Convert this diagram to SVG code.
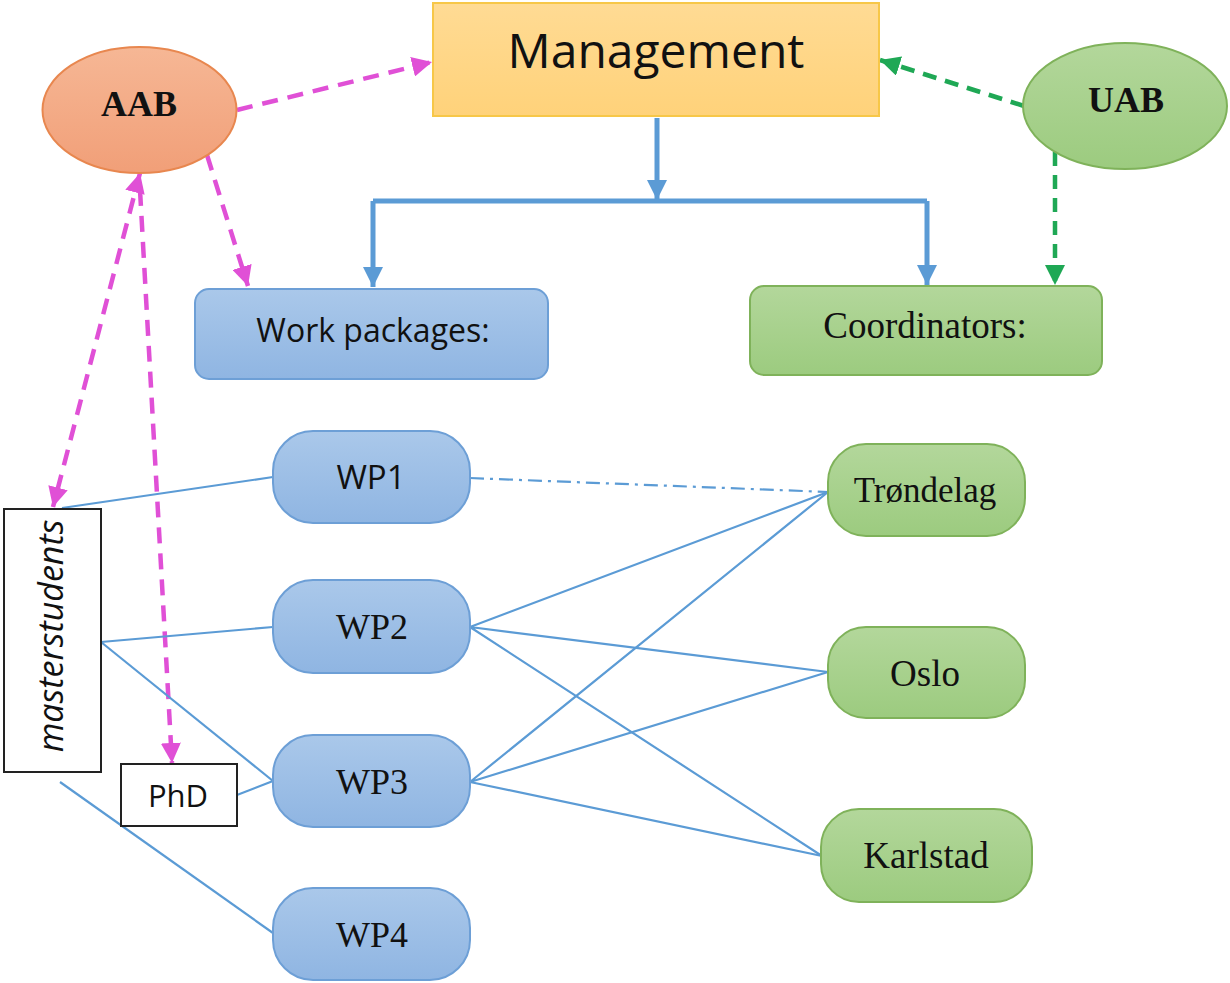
<svg xmlns="http://www.w3.org/2000/svg" width="1230" height="983" viewBox="0 0 1230 983">
<defs>
<style>
.serif{font-family:"Liberation Serif","Times New Roman",serif;fill:#111}
.sans{font-family:"Open Sans","Liberation Sans",sans-serif;fill:#111}
.blue{fill:url(#gBlue);stroke:#6d9fd6;stroke-width:2}
.green{fill:url(#gGreen);stroke:#7fb25a;stroke-width:2}
.box{fill:#fff;stroke:#222;stroke-width:2}
.thin{stroke:#5b9bd5;stroke-width:2.2;fill:none}
.thick{stroke:#5b9bd5;stroke-width:5;fill:none}
.mag{stroke:#e050d6;stroke-width:4.5;stroke-dasharray:16 10;fill:none}
.grn{stroke:#1fa855;stroke-width:4.5;stroke-dasharray:14 9;fill:none}
</style>
<linearGradient id="gBlue" x1="0" y1="0" x2="0" y2="1"><stop offset="0" stop-color="#aac8ea"/><stop offset="1" stop-color="#8fb5e2"/></linearGradient>
<linearGradient id="gGreen" x1="0" y1="0" x2="0" y2="1"><stop offset="0" stop-color="#b3d79b"/><stop offset="1" stop-color="#9ccb7f"/></linearGradient>
<linearGradient id="gOrange" x1="0" y1="0" x2="0" y2="1"><stop offset="0" stop-color="#f6b795"/><stop offset="1" stop-color="#f19f78"/></linearGradient>
<linearGradient id="gYellow" x1="0" y1="0" x2="0" y2="1"><stop offset="0" stop-color="#ffdb94"/><stop offset="1" stop-color="#ffd27a"/></linearGradient>
<marker id="aMag" viewBox="0 0 10 10" refX="10" refY="5" markerWidth="20" markerHeight="20" markerUnits="userSpaceOnUse" orient="auto-start-reverse"><path d="M0,0 L10,5 L0,10 z" fill="#e050d6"/></marker>
<marker id="aGrn" viewBox="0 0 10 10" refX="10" refY="5" markerWidth="20" markerHeight="20" markerUnits="userSpaceOnUse" orient="auto"><path d="M0,0 L10,5 L0,10 z" fill="#1fa855"/></marker>
<marker id="aBlue" viewBox="0 0 10 10" refX="10" refY="5" markerWidth="20" markerHeight="20" markerUnits="userSpaceOnUse" orient="auto"><path d="M0,0 L10,5 L0,10 z" fill="#5b9bd5"/></marker>
</defs>
<rect width="1230" height="983" fill="#fff"/>

<g id="connectors">
<path class="thick" d="M657,118 V200" marker-end="url(#aBlue)"/>
<path class="thick" d="M373,201 H927"/>
<path class="thick" d="M373,201 V287" marker-end="url(#aBlue)"/>
<path class="thick" d="M927,201 V285" marker-end="url(#aBlue)"/>
<path class="mag" d="M237,110 L432,62" marker-end="url(#aMag)"/>
<path class="mag" d="M207,155 L248,286" marker-end="url(#aMag)"/>
<path class="mag" d="M140,173 L53,507" marker-start="url(#aMag)" marker-end="url(#aMag)"/>
<path class="mag" d="M140,190 L172,763" marker-end="url(#aMag)"/>
<path class="grn" d="M1024,106 L880,60" marker-end="url(#aGrn)"/>
<path class="grn" d="M1055,152 L1055,285" marker-end="url(#aGrn)"/>
<path class="thin" d="M273,477 L62,508"/>
<path class="thin" d="M470,478 L828,492" stroke-dasharray="14 6 3 6"/>
<path class="thin" d="M101,642 L273,627"/>
<path class="thin" d="M101,642 L273,781"/>
<path class="thin" d="M60,782 L273,933"/>
<path class="thin" d="M237,795 L273,781"/>
<path class="thin" d="M470,627 L828,492 M470,627 L828,672 M470,627 L822,856"/>
<path class="thin" d="M470,782 L828,492 M470,782 L828,672 M470,782 L822,856"/>
</g>

<g id="aab">
<ellipse cx="139.5" cy="110" rx="97" ry="63" fill="url(#gOrange)" stroke="#e8874f" stroke-width="2"/>
<text class="serif" x="139" y="116" font-size="36" font-weight="bold" text-anchor="middle">AAB</text>
</g>
<g id="management">
<rect x="433" y="3" width="446" height="113" fill="url(#gYellow)" stroke="#f7c748" stroke-width="2"/>
<text class="sans" x="656" y="68" font-size="48" text-anchor="middle">Management</text>
</g>
<g id="uab">
<ellipse cx="1125" cy="106" rx="102" ry="63" fill="url(#gGreen)" stroke="#7fb25a" stroke-width="2"/>
<text class="serif" x="1126" y="112" font-size="36" font-weight="bold" text-anchor="middle">UAB</text>
</g>
<g id="workpackages">
<rect class="blue" x="195" y="289" width="353" height="90" rx="14"/>
<text class="sans" x="373" y="342" font-size="32" text-anchor="middle">Work packages:</text>
</g>
<g id="coordinators">
<rect class="green" x="750" y="286" width="352" height="89" rx="14"/>
<text class="serif" x="925" y="338" font-size="37" text-anchor="middle">Coordinators:</text>
</g>
<g id="masterstudents">
<rect class="box" x="4" y="509" width="97" height="263"/>
<text class="sans" transform="translate(63,636) rotate(-90)" x="0" y="0" font-size="34" font-style="italic" text-anchor="middle">masterstudents</text>
</g>
<g id="phd">
<rect class="box" x="121" y="764" width="116" height="62"/>
<text class="sans" x="178" y="807" font-size="31" text-anchor="middle">PhD</text>
</g>
<g id="wp1">
<rect class="blue" x="273" y="431" width="197" height="92" rx="40"/>
<text class="sans" x="371" y="489" font-size="33" text-anchor="middle">WP1</text>
</g>
<g id="wp2">
<rect class="blue" x="273" y="580" width="197" height="93" rx="40"/>
<text class="serif" x="372" y="639" font-size="36" text-anchor="middle">WP2</text>
</g>
<g id="wp3">
<rect class="blue" x="273" y="735" width="197" height="92" rx="40"/>
<text class="serif" x="372" y="794" font-size="36" text-anchor="middle">WP3</text>
</g>
<g id="wp4">
<rect class="blue" x="273" y="888" width="197" height="92" rx="40"/>
<text class="serif" x="372" y="947" font-size="36" text-anchor="middle">WP4</text>
</g>
<g id="trondelag">
<rect class="green" x="828" y="444" width="197" height="92" rx="38"/>
<text class="serif" x="925" y="502" font-size="35" text-anchor="middle">Trøndelag</text>
</g>
<g id="oslo">
<rect class="green" x="828" y="627" width="197" height="91" rx="38"/>
<text class="serif" x="925" y="686" font-size="37" text-anchor="middle">Oslo</text>
</g>
<g id="karlstad">
<rect class="green" x="821" y="809" width="211" height="93" rx="38"/>
<text class="serif" x="926" y="868" font-size="37" text-anchor="middle">Karlstad</text>
</g>
</svg>
